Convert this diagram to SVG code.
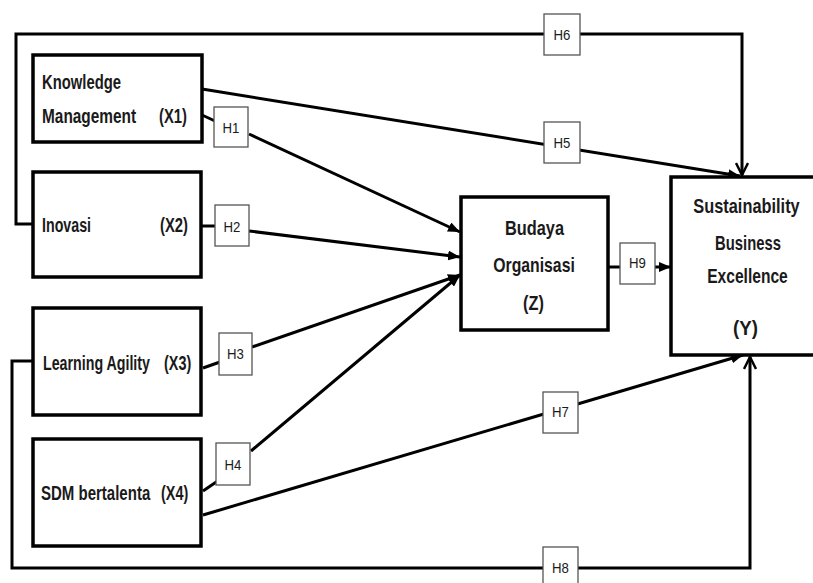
<svg xmlns="http://www.w3.org/2000/svg" width="813" height="583" viewBox="0 0 813 583">
<style>
.box{fill:#fff;stroke:#000;stroke-width:3.5}
.hb{fill:#fff;stroke:#555;stroke-width:1.3}
.ln{fill:none;stroke:#000;stroke-width:3}
.t{font-family:"Liberation Sans",Arial,sans-serif;font-weight:bold;font-size:19.5px;fill:#1a1a1a}
.c{text-anchor:middle}
.h{font-family:"Liberation Sans",Arial,sans-serif;font-size:15px;fill:#1a1a1a;text-anchor:middle}
</style>
<defs>
<marker id="fa" markerUnits="userSpaceOnUse" viewBox="0 0 12 10" refX="12" refY="5" markerWidth="12" markerHeight="10" orient="auto">
<path d="M0,0 L12,5 L0,10 Z" fill="#000"/>
</marker>
<marker id="oa" markerUnits="userSpaceOnUse" viewBox="0 0 14 14" refX="13" refY="7" markerWidth="14" markerHeight="14" orient="auto">
<path d="M1,1 L13,7 L1,13" fill="none" stroke="#000" stroke-width="2.5"/>
</marker>
</defs>
<g id="connectors">
<path class="ln" d="M33,224 H16 V34 H742 V175" marker-end="url(#oa)"/>
<path class="ln" d="M33,361 H12 V568 H750 V357" marker-end="url(#oa)"/>
<path class="ln" d="M202,89 L740,176" marker-end="url(#fa)"/>
<path class="ln" d="M203,515 L743,355" marker-end="url(#fa)"/>
<path class="ln" d="M608,267 L671,267" marker-end="url(#fa)"/>
<path class="ln" d="M202,115 L215,121"/>
<path class="ln" d="M249,134 L460,232" marker-end="url(#fa)"/>
<path class="ln" d="M201,226 L216,226"/>
<path class="ln" d="M249,231 L460,257" marker-end="url(#fa)"/>
<path class="ln" d="M203,368 L220,362"/>
<path class="ln" d="M252,347 L460,275" marker-end="url(#fa)"/>
<path class="ln" d="M203,491 L225,476"/>
<path class="ln" d="M251,451 L460,275" marker-end="url(#fa)"/>
</g>
<g id="x1">
<rect class="box" x="33" y="55" width="169" height="87"/>
<text class="t" transform="translate(42,89) scale(0.76,1)">Knowledge</text>
<text class="t" transform="translate(42,123) scale(0.79,1)">Management</text>
<text class="t" transform="translate(159,123) scale(0.76,1)">(X1)</text>
</g>
<g id="x2">
<rect class="box" x="33" y="172" width="168" height="105"/>
<text class="t" transform="translate(42,232) scale(0.73,1)">Inovasi</text>
<text class="t" transform="translate(160,232) scale(0.76,1)">(X2)</text>
</g>
<g id="x3">
<rect class="box" x="33" y="308" width="168" height="107"/>
<text class="t" transform="translate(43,370) scale(0.73,1)">Learning Agility</text>
<text class="t" transform="translate(164,370) scale(0.74,1)">(X3)</text>
</g>
<g id="x4">
<rect class="box" x="33" y="439" width="168" height="107"/>
<text class="t" transform="translate(41,500) scale(0.77,1)">SDM bertalenta</text>
<text class="t" transform="translate(161,500) scale(0.74,1)">(X4)</text>
</g>
<g id="z">
<rect class="box" x="461" y="197" width="147" height="133"/>
<text class="t c" transform="translate(534.5,235) scale(0.84,1)">Budaya</text>
<text class="t c" transform="translate(534,272) scale(0.81,1)">Organisasi</text>
<text class="t c" transform="translate(533.5,310) scale(0.84,1)">(Z)</text>
</g>
<g id="y">
<rect class="box" x="671" y="177" width="160" height="178"/>
<text class="t c" transform="translate(746.5,213) scale(0.84,1)">Sustainability</text>
<text class="t c" transform="translate(748,250) scale(0.76,1)">Business</text>
<text class="t c" transform="translate(747.5,283) scale(0.8,1)">Excellence</text>
<text class="t c" transform="translate(745.5,335) scale(0.96,1)">(Y)</text>
</g>
<g id="h1"><rect class="hb" x="214" y="107" width="34" height="40"/><text class="h" transform="translate(231,133) scale(0.88,1)">H1</text></g>
<g id="h2"><rect class="hb" x="215" y="205" width="34" height="41"/><text class="h" transform="translate(232,232) scale(0.88,1)">H2</text></g>
<g id="h3"><rect class="hb" x="219" y="333" width="33" height="42"/><text class="h" transform="translate(235.5,359) scale(0.88,1)">H3</text></g>
<g id="h4"><rect class="hb" x="216" y="443" width="34" height="42"/><text class="h" transform="translate(233,470) scale(0.88,1)">H4</text></g>
<g id="h5"><rect class="hb" x="544" y="122" width="36" height="41"/><text class="h" transform="translate(562,148) scale(0.88,1)">H5</text></g>
<g id="h6"><rect class="hb" x="544" y="14" width="36" height="41"/><text class="h" transform="translate(562,40) scale(0.88,1)">H6</text></g>
<g id="h7"><rect class="hb" x="543" y="392" width="35" height="41"/><text class="h" transform="translate(560.5,417) scale(0.88,1)">H7</text></g>
<g id="h8"><rect class="hb" x="543" y="547" width="35" height="44"/><text class="h" transform="translate(560.5,573) scale(0.88,1)">H8</text></g>
<g id="h9"><rect class="hb" x="620" y="243" width="35" height="41"/><text class="h" transform="translate(637.5,268) scale(0.88,1)">H9</text></g>
</svg>
